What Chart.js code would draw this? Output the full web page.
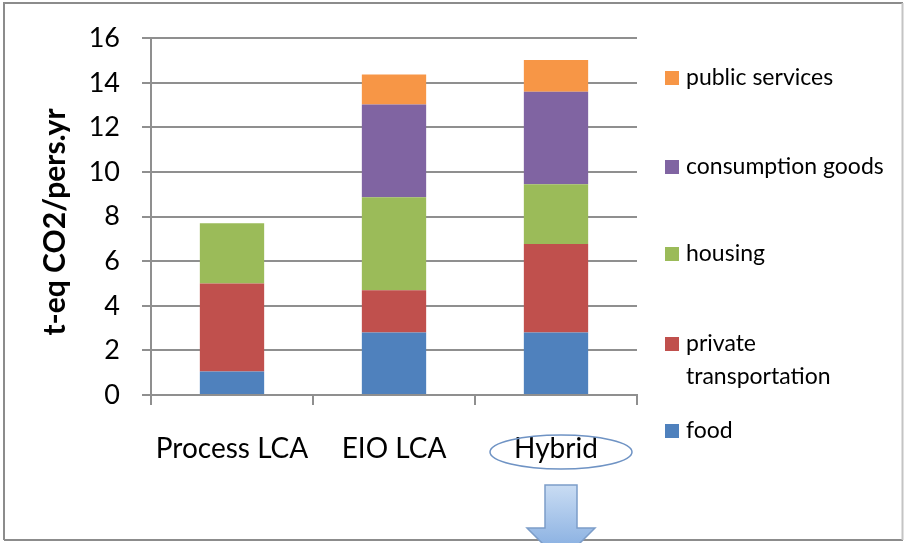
<!DOCTYPE html>
<html>
<head>
<meta charset="utf-8">
<script src="https://cdn.jsdelivr.net/npm/chart.js@4/dist/chart.umd.min.js"></script>
<style>
  html, body { margin: 0; padding: 0; background: #fff; }
  canvas { display: block; }
</style>
</head>
<body>
<canvas id="c" width="904" height="543"></canvas>
<script>
// Carbon footprint per person by assessment method (t-eq CO2 per person per year)
const methods = ['Process LCA', 'EIO LCA', 'Hybrid'];
const food = [1.05, 2.8, 2.8];
const privateTransport = [3.95, 1.9, 3.97];
const housing = [2.7, 4.17, 2.68];
const consumptionGoods = [0, 4.16, 4.15];
const publicServices = [0, 1.34, 1.42];
const yTicks = [0, 2, 4, 6, 8, 10, 12, 14, 16];
const yTitle = 't-eq CO2/pers.yr';

const FONT = 'Lato, "Liberation Sans", sans-serif';

// Legend on the right, listed top to bottom in reverse stack order
const sideLegend = {
  id: 'sideLegend',
  afterDraw(chart, args, opts) {
    const ctx = chart.ctx;
    const ds = chart.data.datasets.slice().reverse();
    ctx.save();
    ctx.font = '23px ' + FONT;
    ctx.textBaseline = 'middle';
    ds.forEach((d, i) => {
      const y = opts.rows[i];
      ctx.fillStyle = d.backgroundColor;
      ctx.fillRect(665, y - 7, 14, 14);
      ctx.fillStyle = '#000';
      const lines = Array.isArray(d.label) ? d.label : [d.label];
      lines.forEach((t, k) => ctx.fillText(t, 686, y + k * 33));
    });
    ctx.restore();
  }
};

// Rotated value-axis title
const axisTitle = {
  id: 'axisTitle',
  afterDraw(chart, args, opts) {
    const ctx = chart.ctx;
    ctx.save();
    ctx.translate(55, 222);
    ctx.rotate(-Math.PI / 2);
    ctx.font = 'bold 30px ' + FONT;
    ctx.fillStyle = '#000';
    ctx.textAlign = 'center';
    ctx.textBaseline = 'middle';
    ctx.fillText(opts.text, 0, 0);
    ctx.restore();
  }
};

// Outer frame, highlight ellipse around the last category and the down arrow
const decorations = {
  id: 'decorations',
  afterDraw(chart) {
    const ctx = chart.ctx;
    const x = chart.scales.x;
    ctx.save();
    // frame
    ctx.strokeStyle = '#8c8c8c';
    ctx.lineWidth = 2;
    ctx.beginPath();
    ctx.moveTo(4, 540); ctx.lineTo(4, 3); ctx.lineTo(903, 3);
    ctx.stroke();
    ctx.beginPath();
    ctx.moveTo(4, 540); ctx.lineTo(903, 540);
    ctx.stroke();
    ctx.strokeStyle = '#c4c4c4';
    ctx.beginPath();
    ctx.moveTo(902.5, 3); ctx.lineTo(902.5, 540);
    ctx.stroke();

    // ellipse around "Hybrid"
    const cx = x.getPixelForValue(2) + 5;
    ctx.strokeStyle = '#6f93c4';
    ctx.lineWidth = 1.5;
    ctx.beginPath();
    ctx.ellipse(cx, 452, 71, 17, 0, 0, Math.PI * 2);
    ctx.stroke();

    // down arrow
    const ax = cx;
    const g = ctx.createLinearGradient(0, 485, 0, 543);
    g.addColorStop(0, '#c9dcf3');
    g.addColorStop(1, '#8fb4e3');
    ctx.fillStyle = g;
    ctx.strokeStyle = '#7c9dc9';
    ctx.lineWidth = 1.5;
    ctx.beginPath();
    ctx.moveTo(ax - 16, 485);
    ctx.lineTo(ax + 16, 485);
    ctx.lineTo(ax + 16, 528);
    ctx.lineTo(ax + 34, 528);
    ctx.lineTo(ax, 562);
    ctx.lineTo(ax - 34, 528);
    ctx.lineTo(ax - 16, 528);
    ctx.closePath();
    ctx.fill();
    ctx.stroke();
    ctx.restore();
  }
};

const GRID = '#8f8f8f';

new Chart(document.getElementById('c'), {
  type: 'bar',
  data: {
    labels: methods,
    datasets: [
      { label: 'food', data: food, backgroundColor: '#4F81BD' },
      { label: ['private', 'transportation'], data: privateTransport, backgroundColor: '#C0504D' },
      { label: 'housing', data: housing, backgroundColor: '#9BBB59' },
      { label: 'consumption goods', data: consumptionGoods, backgroundColor: '#8064A2' },
      { label: 'public services', data: publicServices, backgroundColor: '#F79646' }
    ]
  },
  options: {
    responsive: false,
    animation: false,
    devicePixelRatio: 1,
    layout: { padding: { left: 0, top: 36, right: 267, bottom: 0 } },
    datasets: { bar: { categoryPercentage: 1, barPercentage: 0.397, borderWidth: 0 } },
    plugins: {
      legend: { display: false },
      tooltip: { enabled: false },
      sideLegend: { rows: [78, 167, 254, 344, 431] },
      axisTitle: { text: yTitle }
    },
    scales: {
      x: {
        stacked: true,
        offset: true,
        grid: { offset: true, drawOnChartArea: false, drawTicks: true, tickLength: 10, color: GRID, lineWidth: 2 },
        border: { display: true, color: GRID, width: 2 },
        ticks: { color: '#000', font: { family: FONT, size: 28 }, padding: 27 },
        afterFit(s) { s.height = 148; }
      },
      y: {
        stacked: true,
        min: 0,
        max: 16,
        afterBuildTicks(s) { s.ticks = yTicks.map(v => ({ value: v })); },
        grid: { color: GRID, lineWidth: 2, tickLength: 9 },
        border: { display: true, color: GRID, width: 2 },
        ticks: { color: '#000', font: { family: FONT, size: 27 }, padding: 22 },
        afterFit(s) { s.width = 151; }
      }
    }
  },
  plugins: [sideLegend, axisTitle, decorations]
});
</script>
</body>
</html>
